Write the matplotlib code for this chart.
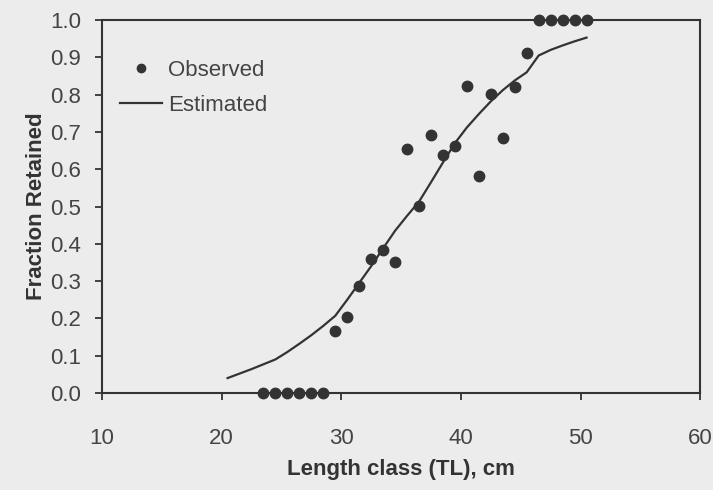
import matplotlib.pyplot as plt
import numpy as np

plt.rcParams['font.family'] = ['Liberation Sans', 'DejaVu Sans']

# observed fraction retained by length class
obs_len = [23.5, 24.5, 25.5, 26.5, 27.5, 28.5, 29.5, 30.5, 31.5, 32.5, 33.5, 34.5,
           35.5, 36.5, 37.5, 38.5, 39.5, 40.5, 41.5, 42.5, 43.5, 44.5, 45.5,
           46.5, 47.5, 48.5, 49.5, 50.5]
obs_frac = [0.0, 0.0, 0.0, 0.0, 0.0, 0.0, 0.166, 0.204, 0.287, 0.359, 0.383, 0.351,
            0.654, 0.502, 0.692, 0.638, 0.663, 0.823, 0.582, 0.802, 0.685, 0.82, 0.913,
            1.0, 1.0, 1.0, 1.0, 1.0]

# estimated selection curve
est_len = [20.5, 21.5, 22.5, 23.5, 24.5, 25.5, 26.5, 27.5, 28.5, 29.5, 30.5, 31.5,
           32.5, 33.5, 34.5, 35.5, 36.5, 37.5, 38.5, 39.5, 40.5, 41.5, 42.5, 43.5,
           44.5, 45.5, 46.5, 47.5, 48.5, 49.5, 50.5]
est_frac = [0.040, 0.052, 0.064, 0.077, 0.090, 0.110, 0.132, 0.155, 0.180, 0.207,
            0.250, 0.295, 0.340, 0.388, 0.435, 0.475, 0.513, 0.565, 0.618, 0.670,
            0.712, 0.748, 0.782, 0.812, 0.838, 0.860, 0.905, 0.920, 0.932, 0.943, 0.953]

bg = '#ececec'
ink = '#333333'
txt = '#444444'

fig = plt.figure(figsize=(7.13, 4.9), dpi=100, facecolor=bg)
ax = fig.add_axes([0.143, 0.198, 0.839, 0.761], facecolor=bg)

ax.plot(obs_len, obs_frac, 'o', color=ink, markersize=7.5, label='Observed',
        clip_on=False, zorder=3)
ax.plot(est_len, est_frac, '-', color=ink, linewidth=1.6, label='Estimated')

ax.set_xlim(10, 60)
ax.set_ylim(0, 1.0)
ax.set_xticks(np.arange(10, 61, 10))
ax.set_yticks(np.arange(0, 1.01, 0.1))
ax.set_yticklabels(['%.1f' % v for v in np.arange(0, 1.01, 0.1)])

for s in ax.spines.values():
    s.set_color(ink)
    s.set_linewidth(1.5)

ax.tick_params(axis='both', colors=ink, labelcolor=txt, labelsize=16, width=1.3,
               length=5, direction='out')
ax.tick_params(axis='x', pad=20)
ax.tick_params(axis='y', pad=10)

ax.set_xlabel('Length class (TL), cm', fontsize=16, fontweight='bold', color=ink)
ax.set_ylabel('Fraction Retained', fontsize=16, fontweight='bold', color=ink)
ax.xaxis.set_label_coords(0.5, -0.178)
ax.yaxis.set_label_coords(-0.092, 0.5)

ax.legend(loc='upper left', bbox_to_anchor=(0.015, 0.918), frameon=False, fontsize=16,
          labelcolor=txt, handlelength=1.9, handletextpad=0.27, labelspacing=0.65,
          markerscale=0.8, borderaxespad=0)

fig.savefig('out.png', dpi=100, facecolor=bg)
